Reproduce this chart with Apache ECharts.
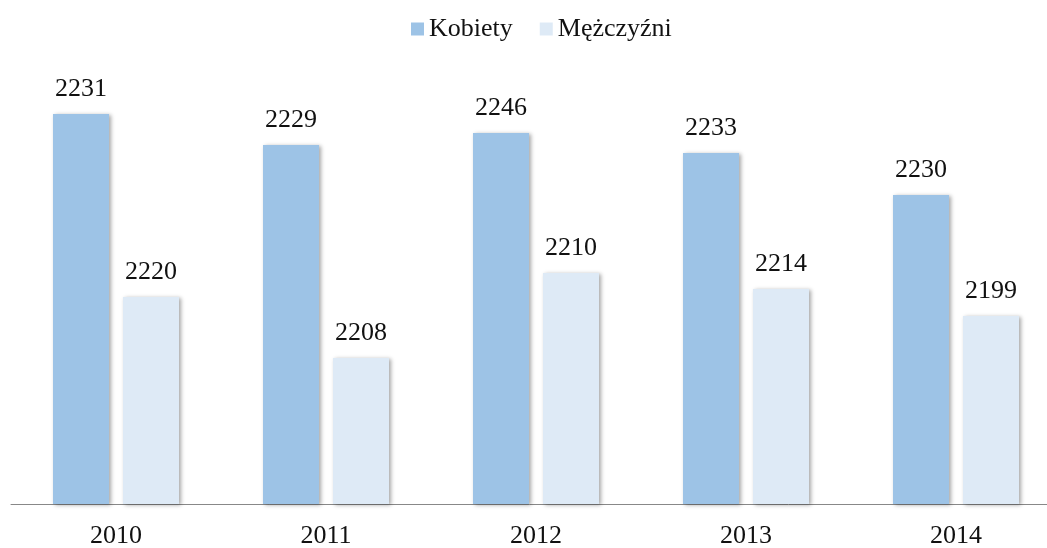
<!DOCTYPE html>
<html>
<head>
<meta charset="utf-8">
<script src="https://cdn.jsdelivr.net/npm/echarts@6/dist/echarts.min.js"></script>
<style>html,body{margin:0;padding:0;background:#fff;}#c{width:1047px;height:548px;}</style>
</head>
<body>
<div id="c"></div>
<script>
// Categories (years)
var years = ['2010', '2011', '2012', '2013', '2014'];
// Data labels as printed on the chart
var kobietyLabels = [2231, 2229, 2246, 2233, 2230];
var mezczyzniLabels = [2220, 2208, 2210, 2214, 2199];
// Bar heights as drawn in the picture (relative units, not consistent with printed labels)
var kobietyBars = [390, 359, 371, 351, 309];
var mezczyzniBars = [207, 146, 231, 215, 188];

var chart = echarts.init(document.getElementById('c'));
var font = '"Liberation Serif", "Times New Roman", serif';
function mk(name, bars, labels, color) {
  return {
    name: name,
    type: 'bar',
    barWidth: 56,
    barGap: '25%',
    data: bars,
    itemStyle: {
      color: color,
      shadowColor: 'rgba(0,0,0,0.35)',
      shadowBlur: 4,
      shadowOffsetX: 2,
      shadowOffsetY: 1
    },
    label: {
      show: true,
      position: 'top',
      distance: 12,
      fontFamily: font,
      fontSize: 26,
      color: '#111',
      formatter: function (p) { return String(labels[p.dataIndex]); }
    }
  };
}
chart.setOption({
  animation: false,
  backgroundColor: '#fff',
  textStyle: { fontFamily: font },
  legend: {
    top: 11,
    left: 406,
    itemWidth: 13,
    itemHeight: 13,
    itemGap: 27,
    icon: 'rect',
    textStyle: { fontFamily: font, fontSize: 26, color: '#111' },
    data: ['Kobiety', 'Mężczyźni']
  },
  grid: { left: 11, width: 1050, top: 104, bottom: 44, containLabel: false, outerBoundsMode: 'none' },
  xAxis: {
    type: 'category',
    data: years,
    axisLine: { lineStyle: { color: '#888', width: 1 } },
    axisTick: { show: false },
    axisLabel: { fontFamily: font, fontSize: 26, color: '#111', margin: 19 }
  },
  yAxis: {
    type: 'value',
    min: 0,
    max: 400,
    show: false,
    splitLine: { show: false }
  },
  series: [
    mk('Kobiety', kobietyBars, kobietyLabels, '#9DC3E6'),
    mk('Mężczyźni', mezczyzniBars, mezczyzniLabels, '#DEEAF6')
  ]
});
</script>
</body>
</html>
